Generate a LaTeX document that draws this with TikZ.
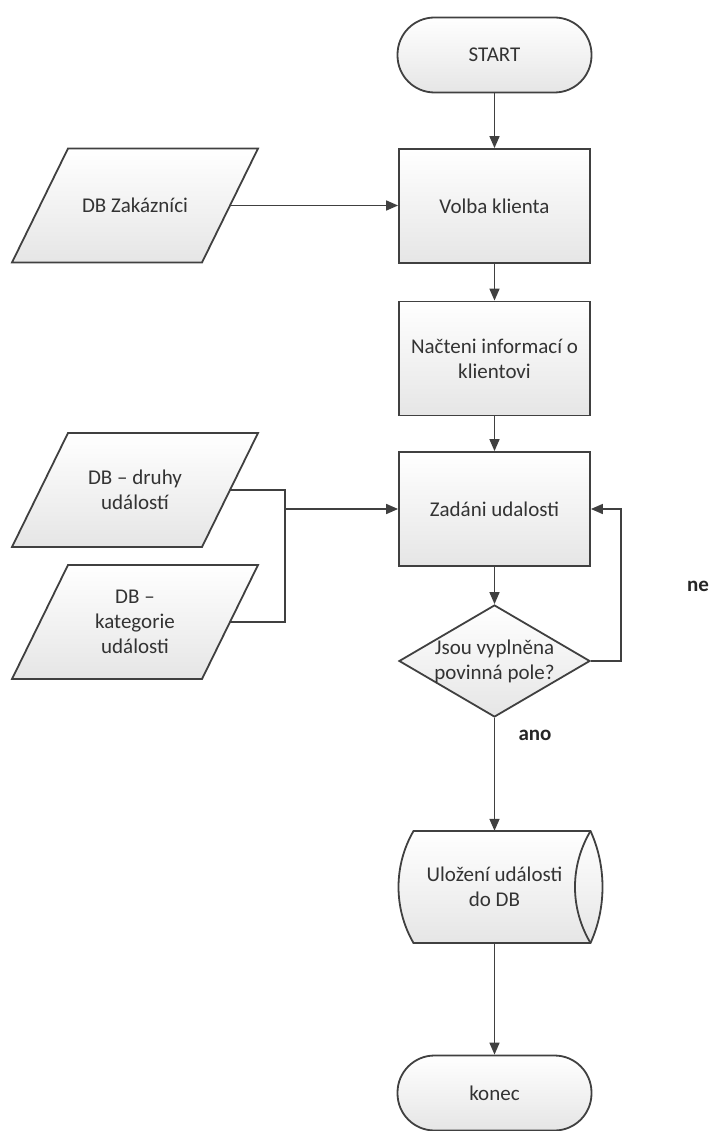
\documentclass[tikz,border=0pt]{standalone}
\usepackage{fontspec}
\setmainfont{Carlito}
\usetikzlibrary{shapes.geometric,arrows.meta,calc}
\begin{document}
\begin{tikzpicture}[x=1pt,y=-1pt,
  line/.style={draw=black!75, line width=1.6pt},
  arr/.style={line, -{Triangle[length=12pt,width=10pt]}},
  boxfill/.style={top color=white, bottom color=black!10},
  txt/.style={font=\fontsize{21}{25}\selectfont, text=black!80, align=center},
  shapeline/.style={draw=black!75, line width=1.8pt, line join=miter},
  procbox/.style={rectangle, shapeline, boxfill, txt, minimum width=191pt, minimum height=114pt, inner sep=0pt},
  termbox/.style={rectangle, rounded corners=37pt, shapeline, boxfill, txt, minimum width=194pt, minimum height=75pt, inner sep=0pt},
  iotext/.style={rectangle, txt, minimum width=190pt, minimum height=114pt, inner sep=0pt},
  decbox/.style={diamond, shapeline, boxfill, minimum width=191pt, minimum height=112pt, inner sep=0pt},
  lbl/.style={font=\bfseries\fontsize{21}{25}\selectfont, text=black!85}
]
\useasboundingbox (0,0) rectangle (713,1131);

\node[termbox] (start) at (494.5,55) {START};
\node[procbox] (volba) at (494.5,206) {Volba klienta};
\node[procbox] (nacteni) at (494.5,358.5) {Načteni informací o\\klientovi};
\node[procbox] (zadani) at (494.5,509) {Zadáni udalosti};
\node[decbox, label={[txt]center:Jsou vyplněna\\povinná pole?}] (dec) at (494.5,661) {};

% stored data (direct access storage) shape
\path[shapeline, boxfill] (413.5,831) -- (590.5,831)
  .. controls (606.5,866) and (606.5,908) .. (590.5,943)
  -- (413.5,943)
  .. controls (393.5,908.4) and (393.5,865.6) .. cycle;
\draw[shapeline] (590.5,831) .. controls (569.8,866) and (569.8,908) .. (590.5,943);
\node[rectangle, txt, minimum width=192pt, minimum height=112pt, inner sep=0pt] (ulo) at (494.5,887) {Uložení události\\do DB};

\node[termbox] (konec) at (494.5,1093) {konec};

% data (parallelogram) shapes
\path[shapeline, boxfill] (68,148.5) -- (258,148.5) -- (202,262.5) -- (12,262.5) -- cycle;
\node[iotext] (zak) at (135,205.5) {DB Zakázníci};
\path[shapeline, boxfill] (68,433) -- (258,433) -- (202,547) -- (12,547) -- cycle;
\node[iotext] (druhy) at (135,490) {DB – druhy\\událostí};
\path[shapeline, boxfill] (68,565) -- (258,565) -- (202,679) -- (12,679) -- cycle;
\node[iotext] (kat) at (135,622) {DB –\\kategorie\\události};

\node[lbl] (ne) at (698,586) {ne};
\node[lbl] (ano) at (535,735) {ano};

\draw[arr] (start) -- (volba);
\draw[arr] (volba) -- (nacteni);
\draw[arr] (nacteni) -- (zadani);
\draw[arr] (zadani) -- (dec);
\draw[arr] (dec) -- (ulo);
\draw[arr] (ulo) -- (konec);
\draw[arr] (zak.east) -- (zak.east -| volba.west);
\coordinate (bus) at (285,490);
\draw[line] (druhy.east) -- (bus) |- (kat.east);
\draw[arr] (bus |- zadani.west) -- (zadani.west);
\coordinate (loop) at (621,509);
\draw[arr] (dec.east) -| (loop) -- (zadani.east);
\end{tikzpicture}
\end{document}
